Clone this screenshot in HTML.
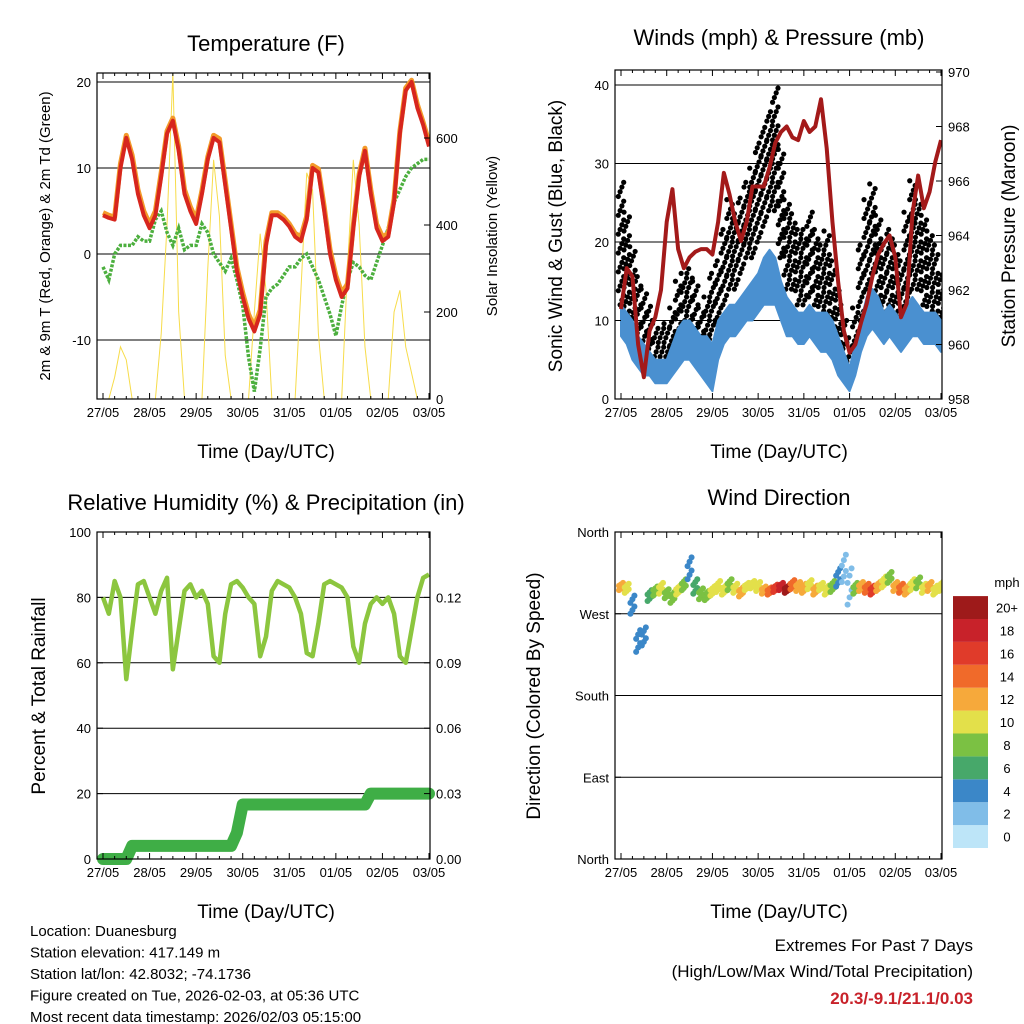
<!DOCTYPE html>
<html><head><meta charset="utf-8"><style>
body{margin:0;background:#fff;}
svg{display:block;font-family:"Liberation Sans",sans-serif;}
</style></head><body>
<svg id="c" width="1024" height="1024" viewBox="0 0 1024 1024"></svg>
<script>
// ===== DATA (3-hourly, t = i*0.125 days from 27/05 00 UTC) =====
const dayLabels = ["27/05","28/05","29/05","30/05","31/05","01/05","02/05","03/05"];
const temp2m = [4.5,4.2,4,10,13.5,11,7,4.5,3,4.5,9,14,15.5,12,7,5,3.5,7,11,13.5,13,8,3,-2,-5,-7.5,-9,-7,1,4.5,4.5,4,3.2,2,1.5,4,10,9.5,5,0,-3,-5,-4,3,9,12,7,3,1.5,2,6,14,19,20,17,15,12.5];
const temp9m = [4.8,4.5,4.3,10.5,13.8,11.5,7.5,5,3.5,5,9.5,14.3,15.8,12.5,7.5,5.5,4,7.4,11.3,13.8,13.4,8.5,3.5,-1.5,-4.5,-7,-8.5,-6.5,1.5,4.8,4.8,4.3,3.5,2.4,2,4.4,10.3,9.9,5.5,0.5,-2.5,-4.5,-3.5,3.4,9.3,12.3,7.5,3.5,2,2.4,6.4,14.3,19.3,20.2,17.4,15.3,13];
const dewpt = [-1.5,-3,0,1,1,1,2,1.5,1.5,4,5,2.5,1,3,0.5,1,1,3.5,2.5,0,-1,-2,-0.5,-3,-6,-12,-16,-11,-5,-4,-3.5,-2.5,-1.5,-1.5,-0.5,0,-1.5,-3,-5,-7,-9.5,-6,-3,-1,-1.5,-2.5,-3,-1,1,3,6,7.5,9,10,10.5,11,11];
const solar = [0,0,50,120,90,0,0,0, 0,0,150,400,750,200,0,0, 0,0,300,550,420,100,0,0, 0,0,200,380,250,0,0,0, 0,0,250,520,480,150,0,0, 0,0,300,550,400,120,0,0, 0,0,200,250,120,60,0,0,0];
const pressure = [961.3,962.8,962.5,960,958.8,960.5,961,962,964.5,965.7,963.5,962.8,963.2,963.4,963.5,963.5,963.3,964.5,966.3,965.5,964.5,963.8,964.5,965.8,965.8,965.8,966.5,967.4,967.8,968,967.6,967.5,968.2,967.8,968,969,967.2,964.5,962.3,960.5,959.7,960,960.8,961.5,962.5,963.3,963.7,964,963.2,961,961.5,964.8,966.2,965,965.6,966.7,967.5];
const gustLo = [12,10,8,6,5,4,3,3,3,5,6,7,7,6,5,4,4,8,12,14,14,16,18,18,20,22,24,24,18,14,14,12,12,13,12,10,10,8,6,4,3,5,10,14,16,12,10,12,10,8,10,14,14,12,10,10,8];
const gustHi = [28,24,20,16,14,12,10,9,10,12,15,16,17,15,12,13,16,18,22,26,24,26,28,30,33,35,37,40,32,26,24,22,22,24,22,20,22,18,14,10,8,12,20,26,28,24,20,22,20,18,24,28,26,24,22,20,16];
const windLo = [8,7,5,4,3,3,2,2,2,3,4,5,5,4,3,2,1,5,7,8,8,9,10,10,11,12,12,12,10,8,8,7,7,8,7,6,6,5,3,2,1,3,6,8,9,8,7,8,7,6,7,8,8,7,7,7,6];
const windHi = [12,11,10,8,7,6,5,5,5,7,9,10,10,9,8,8,7,10,11,12,12,13,14,15,16,18,19,18,15,13,12,11,11,12,11,11,11,10,8,6,4,7,10,13,14,13,11,12,11,10,12,13,12,11,11,11,10];
const rh = [80,75,85,80,55,70,84,85,80,75,82,86,58,70,82,84,80,82,78,62,60,75,84,85,83,80,78,62,68,82,85,84,83,80,75,63,62,72,84,85,84,83,80,65,60,72,78,80,78,80,75,62,60,70,80,86,87];
const precip = [0,0,0,0,0,0.006,0.006,0.006,0.006,0.006,0.006,0.006,0.006,0.006,0.006,0.006,0.006,0.006,0.006,0.006,0.006,0.006,0.006,0.012,0.025,0.025,0.025,0.025,0.025,0.025,0.025,0.025,0.025,0.025,0.025,0.025,0.025,0.025,0.025,0.025,0.025,0.025,0.025,0.025,0.025,0.025,0.03,0.03,0.03,0.03,0.03,0.03,0.03,0.03,0.03,0.03,0.03];
const windDir = [300,298,280,240,245,290,295,298,292,288,296,302,320,300,292,290,295,300,296,302,298,294,300,302,300,296,295,298,300,297,302,300,298,302,296,300,296,300,310,320,300,298,300,298,296,300,305,310,300,298,296,302,304,298,300,296,300];
const dirSpread = [4,5,10,12,10,6,5,6,5,6,5,6,12,8,6,5,5,6,5,6,5,5,4,4,5,4,4,4,4,4,5,5,5,5,5,4,5,6,10,15,20,6,5,5,5,5,6,6,5,5,5,6,6,5,5,5,5];
const dirSpeed = [11,9,4,3,4,6,8,9,7,8,9,8,3,5,7,8,9,10,9,8,10,11,10,9,10,12,14,16,18,20,14,12,11,10,12,10,9,7,3,2,1,8,12,14,16,12,9,8,12,14,12,9,8,10,11,10,9];
const speedLevels = ["0","2","4","6","8","10","12","14","16","18","20+"];
const speedColors = ["#bde5f8","#80bde8","#3b87c8","#47a86a","#7bc143","#e3e04a","#f6a93b","#f06a2a","#e03b2a","#c8222a","#9e1a1a"];

const NS="http://www.w3.org/2000/svg";
const svg=document.getElementById('c');
function el(tag,attrs,parent,text){const e=document.createElementNS(NS,tag);for(const k in attrs)e.setAttribute(k,attrs[k]);if(text!==undefined)e.textContent=text;(parent||svg).appendChild(e);return e;}
function lin(d0,d1,p0,p1){return v=>p0+(v-d0)*(p1-p0)/(d1-d0);}
const tOf=i=>i*0.125;

function frame(g,x0,y0,x1,y1,id){
  const cp=el('clipPath',{id:id},g);el('rect',{x:x0,y:y0,width:x1-x0,height:y1-y0},cp);
}
function xAxis(g,xs,y0,y1){
  for(let d=0;d<=7;d++){const x=xs(d);
    el('line',{x1:x,x2:x,y1:y1,y2:y1-6,stroke:'#000','stroke-width':1},g);
    el('line',{x1:x,x2:x,y1:y0,y2:y0+6,stroke:'#000','stroke-width':1},g);
    const t=el('text',{x:x,y:y1+18,'font-size':13,'text-anchor':'middle'},g,dayLabels[d]);
    
    if(d<7)for(let m=1;m<4;m++){const xm=xs(d+m/4);el('line',{x1:xm,x2:xm,y1:y1,y2:y1-3,stroke:'#000'},g);el('line',{x1:xm,x2:xm,y1:y0,y2:y0+3,stroke:'#000'},g);}
  }
}
function title(txt,x,y,size,name,rot){
  const t=el('text',{x:x,y:y,'font-size':size,'text-anchor':'middle'},svg,txt);
  if(rot)t.setAttribute('transform','rotate(-90 '+x+' '+y+')');
  
}

// ===== Panel 1: Temperature =====
(function(){
  const X0=97,X1=430,Y0=73,Y1=399;
  const g=el('g',{});
  frame(g,X0,Y0,X1,Y1,'cp1');
  const xs=lin(0,7,103,429), ys=lin(0,10,254,168), ysol=lin(0,200,399,312);
  const pg=el('g',{'clip-path':'url(#cp1)'},g);
  [20,10,0,-10].forEach(v=>el('line',{x1:X0,x2:X1,y1:ys(v),y2:ys(v),stroke:'#000','stroke-width':1},pg));
  const sp=el('polyline',{points:solar.map((v,i)=>xs(tOf(i))+','+ysol(v)).join(' '),fill:'none',stroke:'#f7dc4a','stroke-width':1},pg);
  
  const dp=el('polyline',{points:dewpt.map((v,i)=>xs(tOf(i))+','+ys(v)).join(' '),fill:'none',stroke:'#4caf3e','stroke-width':3.5,'stroke-dasharray':'3 1.5'},pg);
  
  const o=el('polyline',{points:temp9m.map((v,i)=>xs(tOf(i))+','+ys(v)).join(' '),fill:'none',stroke:'#f39a2a','stroke-width':5,'stroke-linejoin':'round'},pg);
  
  const r=el('polyline',{points:temp2m.map((v,i)=>xs(tOf(i))+','+ys(v)).join(' '),fill:'none',stroke:'#d7261e','stroke-width':4,'stroke-linejoin':'round'},pg);
  
  el('rect',{x:X0,y:Y0,width:X1-X0,height:Y1-Y0,fill:'none',stroke:'#000','stroke-width':1.2},g);
  xAxis(g,xs,Y0,Y1);
  [20,10,0,-10].forEach(v=>{el('line',{x1:X0,x2:X0+6,y1:ys(v),y2:ys(v),stroke:'#000'},g);
    const t=el('text',{x:X0-6,y:ys(v)+5,'font-size':13,'text-anchor':'end'},g,v);});
  [0,200,400,600].forEach(v=>{el('line',{x1:X1,x2:X1-6,y1:ysol(v),y2:ysol(v),stroke:'#000'},g);
    const t=el('text',{x:X1+6,y:ysol(v)+5,'font-size':13},g,v);});
})();
title('Temperature (F)',266,51,22,'temperature-title');
title('Time (Day/UTC)',266,458,19,'x-axis-title');
title('2m & 9m T (Red, Orange) & 2m Td (Green)',50,236,15,'y-axis-title',true);
title('Solar Insolation (Yellow)',497,236,15,'y2-axis-title',true);

// ===== Panel 2: Winds & Pressure =====
(function(){
  const X0=615,X1=942,Y0=70,Y1=399;
  const g=el('g',{});
  frame(g,X0,Y0,X1,Y1,'cp2');
  const xs=lin(0,7,621,941), ys=lin(0,10,399,320.5), yp=lin(958,970,399,72);
  const pg=el('g',{'clip-path':'url(#cp2)'},g);
  [40,30,20,10].forEach(v=>el('line',{x1:X0,x2:X1,y1:ys(v),y2:ys(v),stroke:'#000'},pg));
  gustLo.forEach((v,i)=>{const x=xs(tOf(i));
    let k=0;
    for(let s=v;s<=gustHi[i];s+=0.6){k++;
      const c=el('circle',{cx:x+((k%4)-1.5)*1.8,cy:ys(s),r:2.6,fill:'#000'},pg);
      }
  });
  const top=windHi.map((v,i)=>xs(tOf(i))+','+ys(v));
  const bot=windLo.map((v,i)=>xs(tOf(i))+','+ys(v)).reverse();
  const wb=el('polygon',{points:top.concat(bot).join(' '),fill:'#4a90d0',stroke:'#4a90d0','stroke-width':2,'stroke-linejoin':'round'},pg);
  
  const p=el('polyline',{points:pressure.map((v,i)=>xs(tOf(i))+','+yp(v)).join(' '),fill:'none',stroke:'#a31a1a','stroke-width':4,'stroke-linejoin':'round'},pg);
  
  el('rect',{x:X0,y:Y0,width:X1-X0,height:Y1-Y0,fill:'none',stroke:'#000','stroke-width':1.2},g);
  xAxis(g,xs,Y0,Y1);
  [0,10,20,30,40].forEach(v=>{el('line',{x1:X0,x2:X0+6,y1:ys(v),y2:ys(v),stroke:'#000'},g);
    const t=el('text',{x:X0-6,y:ys(v)+5,'font-size':13,'text-anchor':'end'},g,v);});
  [958,960,962,964,966,968,970].forEach(v=>{el('line',{x1:X1,x2:X1-6,y1:yp(v),y2:yp(v),stroke:'#000'},g);
    const t=el('text',{x:X1+6,y:yp(v)+5,'font-size':13},g,v);});
})();
title('Winds (mph) & Pressure (mb)',779,45,22,'winds-title');
title('Time (Day/UTC)',779,458,19,'x-axis-title');
title('Sonic Wind & Gust (Blue, Black)',562,236,19,'y-axis-title',true);
title('Station Pressure (Maroon)',1015,236,19,'y2-axis-title',true);

// ===== Panel 3: RH & Precip =====
(function(){
  const X0=97,X1=430,Y0=532,Y1=859;
  const g=el('g',{});
  const xs=lin(0,7,103,429), ys=lin(0,100,859,532), ypr=lin(0,0.12,859,597.4);
  const pg=el('g',{},g);
  [80,60,40,20].forEach(v=>el('line',{x1:X0,x2:X1,y1:ys(v),y2:ys(v),stroke:'#000'},pg));
  const pr=el('polyline',{points:precip.map((v,i)=>xs(tOf(i))+','+ypr(v)).join(' '),fill:'none',stroke:'#3fae46','stroke-width':12,'stroke-linecap':'round','stroke-linejoin':'round'},pg);
  
  const h=el('polyline',{points:rh.map((v,i)=>xs(tOf(i))+','+ys(v)).join(' '),fill:'none',stroke:'#8cc63f','stroke-width':4.5,'stroke-linejoin':'round'},pg);
  
  el('rect',{x:X0,y:Y0,width:X1-X0,height:Y1-Y0,fill:'none',stroke:'#000','stroke-width':1.2},g);
  xAxis(g,xs,Y0,Y1);
  [0,20,40,60,80,100].forEach(v=>{el('line',{x1:X0,x2:X0+6,y1:ys(v),y2:ys(v),stroke:'#000'},g);
    const t=el('text',{x:X0-6,y:ys(v)+5,'font-size':13,'text-anchor':'end'},g,v);});
  [0,0.03,0.06,0.09,0.12].forEach(v=>{el('line',{x1:X1,x2:X1-6,y1:ypr(v),y2:ypr(v),stroke:'#000'},g);
    const t=el('text',{x:X1+6,y:ypr(v)+5,'font-size':13},g,v.toFixed(2));});
})();
title('Relative Humidity (%) & Precipitation (in)',266,510,22,'humidity-title');
title('Time (Day/UTC)',266,918,19,'x-axis-title');
title('Percent & Total Rainfall',45,696,19,'y-axis-title',true);

// ===== Panel 4: Wind Direction =====
(function(){
  const X0=615,X1=942,Y0=532,Y1=859;
  const g=el('g',{});
  frame(g,X0,Y0,X1,Y1,'cp4');
  const xs=lin(0,7,621,941), yd=lin(0,360,859,532);
  const pg=el('g',{'clip-path':'url(#cp4)'},g);
  [270,180,90].forEach(v=>el('line',{x1:X0,x2:X1,y1:yd(v),y2:yd(v),stroke:'#000'},pg));
  const colorOf=s=>speedColors[Math.max(0,Math.min(10,Math.floor((s+1)/2)))];
  windDir.forEach((d,i)=>{const x=xs(tOf(i));const c=colorOf(dirSpeed[i]);
    [-1,-0.6,-0.2,0.2,0.6,1].forEach((k,j)=>{const dx=((j%3)-1)*2;
      const p=el('circle',{cx:x+dx,cy:yd(d+k*dirSpread[i]),r:3,fill:c},pg);
      });
  });
  el('rect',{x:X0,y:Y0,width:X1-X0,height:Y1-Y0,fill:'none',stroke:'#000','stroke-width':1.2},g);
  xAxis(g,xs,Y0,Y1);
  [[360,'North'],[270,'West'],[180,'South'],[90,'East'],[0,'North']].forEach(a=>{el('line',{x1:X0,x2:X0+6,y1:yd(a[0]),y2:yd(a[0]),stroke:'#000'},g);
    const t=el('text',{x:X0-6,y:yd(a[0])+5,'font-size':13,'text-anchor':'end'},g,a[1]);});
  const cb=el('g',{},svg);
  const bh=22.9, by=848;
  speedColors.forEach((c,i)=>{const r=el('rect',{x:953,y:by-(i+1)*bh,width:35,height:bh,fill:c},cb);
    
    const t=el('text',{x:1007,y:by-i*bh-bh/2+5,'font-size':13,'text-anchor':'middle'},cb,speedLevels[i]);
    });
  const m=el('text',{x:1007,y:587,'font-size':13,'text-anchor':'middle'},cb,'mph');
})();
title('Wind Direction',779,505,22,'wind-direction-title');
title('Time (Day/UTC)',779,918,19,'x-axis-title');
title('Direction (Colored By Speed)',540,696,19,'y-axis-title',true);

// ===== Footer text =====
["Location: Duanesburg","Station elevation: 417.149 m","Station lat/lon: 42.8032; -74.1736","Figure created on Tue, 2026-02-03, at 05:36 UTC","Most recent data timestamp: 2026/02/03 05:15:00"].forEach((s,i)=>{
  const t=el('text',{x:30,y:936+i*21.5,'font-size':15},svg,s);});
(function(){
  let t=el('text',{x:973,y:951,'font-size':17,'text-anchor':'end'},svg,'Extremes For Past 7 Days');
  t=el('text',{x:973,y:977,'font-size':17,'text-anchor':'end'},svg,'(High/Low/Max Wind/Total Precipitation)');
  t=el('text',{x:973,y:1004,'font-size':17,'text-anchor':'end','font-weight':'bold',fill:'#c8222a'},svg,'20.3/-9.1/21.1/0.03');
})();
</script>
</body></html>
